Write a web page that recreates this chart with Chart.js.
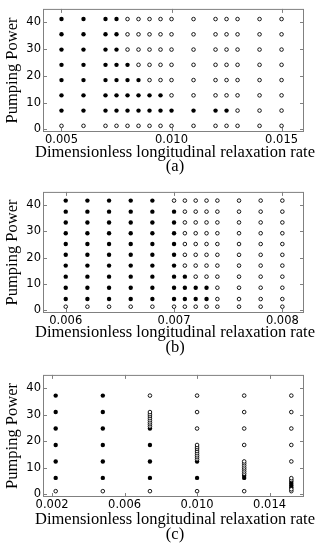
<!DOCTYPE html>
<html>
<head>
<meta charset="utf-8">
<script src="https://cdn.jsdelivr.net/npm/chart.js@4.4.1/dist/chart.umd.min.js"></script>
<style>
  html, body { margin: 0; padding: 0; background: #fff; }
  #wrap { position: relative; width: 319px; height: 550px; }
  canvas { position: absolute; left: 0; }
</style>
</head>
<body>
<div id="wrap">
  <canvas id="chartA" width="319" height="183" style="top:0px"></canvas>
  <canvas id="chartB" width="319" height="183" style="top:183px"></canvas>
  <canvas id="chartC" width="319" height="184" style="top:366px"></canvas>
</div>
<script>
// ---- data ----
const X_TITLE = "Dimensionless longitudinal relaxation rate";
const Y_TITLE = "Pumping Power";
const yTicks = [0, 10, 20, 30, 40];

// panel (a): grid of runs; filledRowsA = how many rows above the lowest one are filled
const xA = [0.005, 0.006, 0.007, 0.0075, 0.008, 0.0085, 0.009, 0.0095, 0.010, 0.011, 0.012, 0.0125, 0.013, 0.014, 0.015];
const yA = [1.3, 7.0, 12.7, 18.4, 24.1, 29.8, 35.5, 41.2];
const filledRowsA = [7, 7, 7, 7, 4, 3, 2, 2, 1, 1, 1, 1, 0, 0, 0];
const xTicksA = [0.005, 0.010, 0.015];

// panel (b)
const xB = [0.006, 0.0062, 0.0064, 0.0066, 0.0068, 0.007, 0.0071, 0.0072, 0.0073, 0.0074, 0.0076, 0.0078, 0.008];
const yB = [1.4, 4.3, 8.6, 12.8, 17.0, 21.1, 25.2, 29.3, 33.4, 37.5, 41.7];
const filledRowsB = [10, 10, 10, 10, 10, 9, 3, 2, 2, 0, 0, 0, 0];
const xTicksB = [0.006, 0.007, 0.008];

// panel (c): irregular columns
const xC = [0.0022, 0.0048, 0.0074, 0.0100, 0.0126, 0.0152];
const filledYC = [
  [6.2, 12.4, 18.6, 24.8, 31.0, 37.2],
  [6.2, 12.4, 18.6, 24.8, 31.0, 37.2],
  [6.2, 12.4, 18.6, 24.8],
  [6.2, 12.4],
  [6.2, 7.0],
  [2.6, 3.3, 4.0, 4.7],
];
const openYC = [
  [1.2],
  [1.2],
  [1.2, 25.6, 26.4, 27.1, 27.9, 28.7, 29.5, 30.2, 31.0, 37.2],
  [1.2, 13.2, 14.0, 14.7, 15.5, 16.3, 17.1, 17.8, 18.6, 24.8, 31.0, 37.2],
  [1.2, 7.8, 8.6, 9.4, 10.1, 10.9, 11.7, 12.4, 18.6, 24.8, 31.0, 37.2],
  [1.2, 1.9, 5.4, 6.1, 12.4, 18.6, 24.8, 31.0, 37.2],
];
const xTicksC = [0.002, 0.006, 0.010, 0.014];

// ---- helpers ----
function gridPoints(xs, ys, filledRows) {
  const filled = [];
  const open = [];
  xs.forEach((x, i) => {
    ys.forEach((y, j) => {
      if (j >= 1 && j <= filledRows[i]) filled.push({ x, y });
      else open.push({ x, y });
    });
  });
  return { filled, open };
}

function columnPoints(xs, lists) {
  const pts = [];
  xs.forEach((x, i) => lists[i].forEach((y) => pts.push({ x, y })));
  return pts;
}

// plot frame with inward ticks on all four sides
const framePlugin = {
  id: "frame",
  afterDraw(chart) {
    const { ctx, chartArea: a, scales } = chart;
    const x = scales.x, y = scales.y;
    ctx.save();
    ctx.strokeStyle = "#808080";
    ctx.lineWidth = 1;
    ctx.strokeRect(a.left + 0.5, a.top + 0.5, a.right - a.left - 1, a.bottom - a.top - 1);
    ctx.beginPath();
    x.ticks.forEach((t) => {
      const px = Math.round(x.getPixelForValue(t.value)) + 0.5;
      ctx.moveTo(px, a.top); ctx.lineTo(px, a.top + 4);
      ctx.moveTo(px, a.bottom); ctx.lineTo(px, a.bottom - 4);
    });
    y.ticks.forEach((t) => {
      const py = Math.round(y.getPixelForValue(t.value)) + 0.5;
      ctx.moveTo(a.left, py); ctx.lineTo(a.left + 4, py);
      ctx.moveTo(a.right, py); ctx.lineTo(a.right - 4, py);
    });
    ctx.stroke();
    ctx.restore();
  },
};

// x title + panel caption, drawn without the axis-width squeeze
const captionPlugin = {
  id: "caption",
  afterDraw(chart, args, opts) {
    const { ctx, chartArea: a } = chart;
    const cx = (a.left + a.right) / 2 + 1.5;
    ctx.save();
    ctx.fillStyle = "#000";
    ctx.font = "16.5px 'Liberation Serif'";
    ctx.textAlign = "center";
    ctx.textBaseline = "middle";
    ctx.fillText(X_TITLE, cx, opts.titleY);
    ctx.fillText(opts.caption, cx, opts.captionY);
    ctx.restore();
  },
};

const TICK_FONT = { family: "DejaVu Sans", size: 11.5 };

function makePanel(id, p) {
  return new Chart(document.getElementById(id), {
    type: "scatter",
    data: {
      datasets: [
        {
          data: p.open,
          pointRadius: 1.8,
          pointHoverRadius: 1.8,
          borderWidth: 0.9,
          borderColor: "#000",
          backgroundColor: "#fff",
        },
        {
          data: p.filled,
          pointRadius: 2.2,
          pointHoverRadius: 2.2,
          borderWidth: 0,
          borderColor: "#000",
          backgroundColor: "#000",
        },
      ],
    },
    options: {
      responsive: false,
      animation: false,
      events: [],
      layout: { padding: { top: p.padTop, right: 15, bottom: 0, left: 0 } },
      plugins: {
        legend: { display: false },
        tooltip: { enabled: false },
        caption: { caption: p.caption, titleY: p.titleY, captionY: p.captionY },
      },
      scales: {
        x: {
          type: "linear",
          min: p.xMin,
          max: p.xMax,
          afterBuildTicks: (s) => { s.ticks = p.xTicks.map((v) => ({ value: v })); },
          afterFit: (s) => { s.height = p.xAxisH; },
          grid: { display: false, drawTicks: false },
          border: { display: false },
          ticks: {
            font: TICK_FONT,
            color: "#000",
            padding: 1,
            maxRotation: 0,
            autoSkip: false,
            callback: (v) => Number(v).toFixed(3),
          },
          title: { display: false },
        },
        y: {
          type: "linear",
          min: -1,
          max: 45,
          afterBuildTicks: (s) => { s.ticks = yTicks.map((v) => ({ value: v })); },
          afterFit: (s) => { s.width = 43; },
          grid: { display: false, drawTicks: false },
          border: { display: false },
          ticks: { font: TICK_FONT, color: "#000", padding: 2, autoSkip: false },
          title: {
            display: true,
            text: Y_TITLE,
            font: { family: "Liberation Serif", size: 16.5, lineHeight: 1 },
            color: "#000",
            padding: { top: 4, bottom: 0 },
          },
        },
      },
    },
    plugins: [framePlugin, captionPlugin],
  });
}

// ---- init ----
const ptsA = gridPoints(xA, yA, filledRowsA);
const ptsB = gridPoints(xB, yB, filledRowsB);

makePanel("chartA", {
  open: ptsA.open, filled: ptsA.filled,
  xMin: 0.00416, xMax: 0.01602, xTicks: xTicksA,
  caption: "(a)", padTop: 3, xAxisH: 51, titleY: 153, captionY: 167,
});
makePanel("chartB", {
  open: ptsB.open, filled: ptsB.filled,
  xMin: 0.00579, xMax: 0.0082, xTicks: xTicksB,
  caption: "(b)", padTop: 2, xAxisH: 53, titleY: 150, captionY: 165,
});
makePanel("chartC", {
  open: columnPoints(xC, openYC), filled: columnPoints(xC, filledYC),
  xMin: 0.0015, xMax: 0.0159, xTicks: xTicksC,
  caption: "(c)", padTop: 3, xAxisH: 53, titleY: 154, captionY: 169,
});
</script>
</body>
</html>
